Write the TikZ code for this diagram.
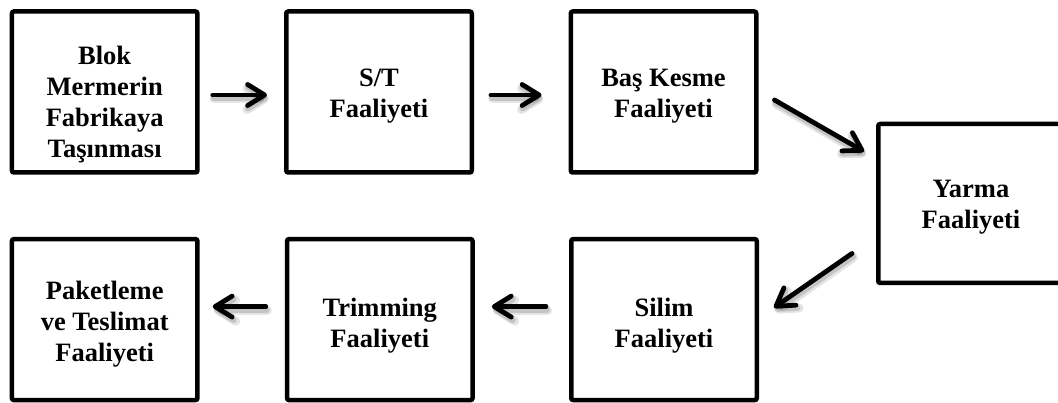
\documentclass[tikz,border=0pt]{standalone}
\usepackage{fontspec}
\setmainfont{Liberation Serif}
\usetikzlibrary{arrows.meta,calc}
\begin{document}
\begin{tikzpicture}[x=1pt,y=-1pt,
  stage/.style={draw, line width=4.5pt, rounded corners=2pt,
    minimum width=185.5pt, minimum height=161pt, inner sep=0pt},
  caption/.style={align=center, inner sep=0pt,
    font=\bfseries\fontsize{26.5}{31}\selectfont},
  tipshape/.style={-{Straight Barb[length=17pt,width=21pt,line cap=round,line join=round]}},
  flow/.style={line width=4.8pt, line cap=round, tipshape,
    preaction={draw=black, opacity=0.10, line width=9pt, line cap=round, tipshape,
      transform canvas={shift={(1.5pt,-4pt)}}},
    preaction={draw=black, opacity=0.14, line width=6pt, line cap=round, tipshape,
      transform canvas={shift={(1pt,-3pt)}}}}
]
\useasboundingbox (0,0) rectangle (1058,403);
\clip (0,0) rectangle (1058,403);
\fill[white] (0,0) rectangle (1058,403);

% upper row of process steps
\node[stage] (blok) at (104.7,92) {};
\node[caption] (blok-t) at ($(blok.center)+(0,12.5)$) {Blok\\Mermerin\\Fabrikaya\\Taşınması};
\node[stage] (st) at (379,92) {};
\node[caption] (st-t) at ($(st.center)+(0,4)$) {S/T\\Faaliyeti};
\node[stage] (bas) at (663.5,92) {};
\node[caption] (bas-t) at ($(bas.center)+(0,4)$) {Baş Kesme\\Faaliyeti};

% turning step on the right, partly outside the frame
\node[stage, minimum height=159pt] (yarma) at (971,203.5) {};
\node[caption] (yarma-t) at ($(yarma.center)+(0,4)$) {Yarma\\Faaliyeti};

% lower row of process steps
\node[stage] (silim) at (664,319.6) {};
\node[caption] (silim-t) at ($(silim.center)+(0,6)$) {Silim\\Faaliyeti};
\node[stage] (trim) at (379.8,319.6) {};
\node[caption] (trim-t) at ($(trim.center)+(0,6)$) {Trimming\\Faaliyeti};
\node[stage] (paket) at (104.7,319.6) {};
\node[caption] (paket-t) at ($(paket.center)+(0,4.5)$) {Paketleme\\ve Teslimat\\Faaliyeti};

% flow arrows between the steps
\draw[flow] ($(blok.east)+(13,3)$)     -- ($(st.west)+(-17,3)$);
\draw[flow] ($(st.east)+(17,3)$)       -- ($(bas.west)+(-27,3)$);
\draw[flow] ($(bas.east)+(16,8)$)      -- ($(yarma.west)+(-12,-52)$);
\draw[flow] ($(yarma.west)+(-24,50)$)  -- ($(silim.east)+(15,-12)$);
\draw[flow] ($(silim.west)+(-23,-13)$) -- ($(trim.east)+(17,-13)$);
\draw[flow] ($(trim.west)+(-19,-13)$)  -- ($(paket.east)+(13,-13)$);
\end{tikzpicture}
\end{document}
